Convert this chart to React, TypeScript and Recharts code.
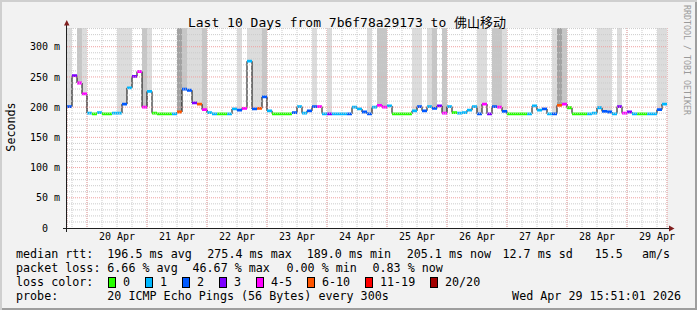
import React from 'react';
import { ComposedChart, Area, Line, XAxis, YAxis, CartesianGrid, ReferenceLine } from 'recharts';

// 2 hour steps from Apr 19 16:00, the last value is the "now" sample
const medianMs = [
  201, 252, 240, 222, 190, 189, 191, 189, 189, 190,
  190, 205, 232, 251, 259, 200, 226, 190, 189, 189,
  189, 189, 192, 230, 228, 207, 205, 196, 191, 189,
  189, 189, 189, 197, 195, 198, 276, 197, 198, 217,
  194, 189, 189, 189, 189, 191, 201, 190, 194, 201,
  201, 189, 189, 189, 189, 189, 189, 200, 197, 192,
  189, 200, 203, 200, 202, 189, 189, 189, 189, 194,
  201, 194, 201, 198, 202, 190, 201, 191, 190, 191,
  195, 201, 189, 205, 189, 201, 200, 193, 189, 189,
  189, 189, 189, 202, 195, 197, 189, 189, 203, 205,
  199, 189, 189, 189, 189, 190, 199, 193, 192, 189,
  201, 190, 192, 189, 189, 189, 189, 189, 196, 205,
  205.1,
];

// index into lossLabels
const lossIdx = [
  2, 3, 4, 4, 1, 0, 1, 0, 0, 1,
  1, 2, 1, 3, 4, 4, 1, 0, 0, 0,
  0, 1, 5, 2, 2, 3, 5, 4, 1, 1,
  0, 0, 1, 1, 2, 4, 1, 2, 5, 2,
  1, 0, 0, 0, 0, 2, 1, 1, 2, 2,
  4, 1, 3, 1, 1, 1, 2, 1, 1, 2,
  2, 1, 4, 4, 1, 0, 0, 0, 0, 1,
  2, 2, 1, 2, 3, 4, 1, 0, 1, 1,
  1, 1, 2, 4, 3, 2, 4, 2, 0, 0,
  0, 0, 1, 1, 1, 2, 1, 2, 5, 4,
  0, 0, 0, 0, 1, 1, 1, 2, 2, 1,
  3, 4, 3, 1, 0, 0, 1, 1, 2, 1,
  1,
];

// 0 none, 1 light, 2 medium, 3 dark smoke up to the top
const smokeLvl = [
  1, 0, 2, 1, 0, 0, 0, 0, 0, 0,
  1, 1, 1, 0, 0, 2, 1, 0, 0, 0,
  0, 0, 3, 2, 1, 1, 1, 2, 0, 0,
  0, 0, 0, 0, 1, 0, 1, 1, 1, 2,
  0, 0, 0, 0, 0, 0, 0, 0, 0, 1,
  0, 0, 1, 0, 0, 0, 0, 0, 0, 0,
  1, 0, 2, 2, 0, 0, 0, 0, 0, 1,
  1, 0, 1, 2, 0, 2, 0, 0, 0, 0,
  0, 0, 1, 1, 0, 2, 2, 1, 0, 0,
  0, 0, 0, 0, 0, 0, 0, 1, 3, 2,
  0, 0, 0, 0, 0, 0, 1, 1, 1, 0,
  1, 0, 0, 0, 0, 0, 0, 0, 1, 1,
  1,
];

const dayLabels = ['20 Apr', '21 Apr', '22 Apr', '23 Apr', '24 Apr', '25 Apr', '26 Apr', '27 Apr', '28 Apr', '29 Apr'];
const yTicks = [0, 50, 100, 150, 200, 250, 300];

const lossLabels = ['0', '1', '2', '3', '4-5', '6-10', '11-19', '20/20'];
const lossColors = ['#26ff00', '#00b8ff', '#0059ff', '#7e00ff', '#ff00ff', '#ff5500', '#ff0000', '#a10000'];
const smokeColors = ['none', '#dcdcdc', '#c6c6c6', '#a2a2a2'];

const STEP_H = 2;
const SPAN_H = 240;
const FIRST_MIDNIGHT = 8;
const Y_TOP = 331;
const HALF = 2.3;

const MONO = "'DejaVu Sans Mono', 'Noto Sans CJK SC', monospace";

const rows = medianMs.map((m, i) => ({ h: i * STEP_H, median: m, loss: lossIdx[i], smoke: smokeLvl[i] }));

const noonHours = dayLabels.map((_, d) => FIRST_MIDNIGHT + 12 + d * 24);
const midnightHours = dayLabels.map((_, d) => FIRST_MIDNIGHT + d * 24);
const minorHours = Array.from({ length: 40 }, (_, k) => 2 + k * 6);
const yMinorTicks = Array.from({ length: 33 }, (_, k) => (k + 1) * 10).filter((v) => v % 50 !== 0);

const fmtY = (v: number) => (v === 0 ? '0\u00a0\u00a0' : `${v} m`);

const YTick = (p: any) => (
  <text x={p.x} y={p.y} dy="0.36em" textAnchor="end" fontSize={10} fontFamily={MONO} fill="#000">
    {fmtY(p.payload.value)}
  </text>
);

const statsRow1 = [
  { x: 16, t: 'median rtt:' },
  { x: 107.3, t: '196.5 ms avg' },
  { x: 207.3, t: '275.4 ms max' },
  { x: 306.7, t: '189.0 ms min' },
  { x: 406.7, t: '205.1 ms now' },
  { x: 502.5, t: '12.7 ms sd' },
  { x: 594.7, t: '15.5' },
  { x: 642, t: 'am/s' },
];
const statsRow2 = [
  { x: 16, t: 'packet loss:' },
  { x: 107.3, t: '6.66 % avg' },
  { x: 192.5, t: '46.67 % max' },
  { x: 286.5, t: '0.00 % min' },
  { x: 372.5, t: '0.83 % now' },
];

const LegendBoxes = () => {
  let x = 108;
  return (
    <g>
      {lossLabels.map((lab, k) => {
        const bx = x;
        x += 15 + lab.length * 7 + 15;
        return (
          <g key={lab}>
            <rect x={bx + 0.5} y={277.5} width={7} height={10} fill={lossColors[k]} stroke="#000" strokeWidth={1} />
            <text x={bx + 15} y={286} fontSize={11.7} fontFamily={MONO}>{lab}</text>
          </g>
        );
      })}
    </g>
  );
};

const Overlay = () => (
  <svg width={697} height={310} style={{ position: 'absolute', left: 0, top: 0, pointerEvents: 'none' }}>
    <line x1={66.5} y1={24} x2={66.5} y2={232} stroke="#1f1f1f" strokeWidth={1} />
    <line x1={63} y1={228.5} x2={671} y2={228.5} stroke="#1f1f1f" strokeWidth={1} />
    <polygon points="64,25.5 69.5,25.5 66.75,20" fill="#801f1f" />
    <polygon points="669,225.5 669,231.5 674.5,228.5" fill="#801f1f" />
    <text x={347} y={26.5} textAnchor="middle" fontSize={13} fontFamily={MONO} fill="#000">
      Last 10 Days from 7b6f78a29173 to 佛山移动
    </text>
    <text transform="translate(15,127) rotate(-90)" textAnchor="middle" fontSize={11.7} fontFamily={MONO} fill="#000">
      Seconds
    </text>
    <text transform="translate(684,5) rotate(90)" fontSize={8.3} fontFamily={MONO} fill="#9a9a9a">
      RRDTOOL / TOBI OETIKER
    </text>
    {statsRow1.map((s) => (
      <text key={s.t} x={s.x} y={258} fontSize={11.7} fontFamily={MONO}>{s.t}</text>
    ))}
    {statsRow2.map((s) => (
      <text key={s.t} x={s.x} y={272} fontSize={11.7} fontFamily={MONO}>{s.t}</text>
    ))}
    <text x={16} y={286} fontSize={11.7} fontFamily={MONO}>loss color:</text>
    <LegendBoxes />
    <text x={16} y={300} fontSize={11.7} fontFamily={MONO}>probe:</text>
    <text x={107.3} y={300} fontSize={11.7} fontFamily={MONO}>20 ICMP Echo Pings (56 Bytes) every 300s</text>
    <text x={681} y={300} textAnchor="end" fontSize={11.7} fontFamily={MONO}>Wed Apr 29 15:51:01 2026</text>
  </svg>
);

export default function App() {
  return (
    <div
      style={{
        position: 'absolute',
        left: 0,
        top: 0,
        width: 697,
        height: 310,
        background: '#f2f2f2',
        boxShadow: 'inset 2px 2px 0 #cfcfcf, inset -2px -2px 0 #9e9e9e',
      }}
    >
      {/* plot canvas */}
      <div style={{ position: 'absolute', left: 66, top: 28, width: 601, height: 200, background: '#ffffff' }} />
      <ComposedChart
        width={697}
        height={310}
        data={rows}
        margin={{ top: 28, right: 30, bottom: 81, left: 66 }}
        style={{ position: 'absolute', left: 0, top: 0 }}
      >
        <XAxis xAxisId="minor" type="number" dataKey="h" domain={[0, SPAN_H]} ticks={minorHours} interval={0} hide allowDataOverflow />
        <XAxis xAxisId="major" type="number" dataKey="h" domain={[0, SPAN_H]} ticks={midnightHours} interval={0} hide allowDataOverflow />
        <CartesianGrid xAxisId="minor" horizontal={false} stroke="#cbcbcb" strokeDasharray="1 1" />
        <CartesianGrid xAxisId="major" horizontal={false} stroke="#f0a0a0" strokeDasharray="1 1" />
        {yMinorTicks.map((v) => (
          <ReferenceLine key={`gy${v}`} y={v} stroke="#cbcbcb" strokeDasharray="1 1" />
        ))}
        {yTicks.slice(1).map((v) => (
          <ReferenceLine key={`my${v}`} y={v} stroke="#f0a0a0" strokeDasharray="1 1" />
        ))}
        <XAxis
          dataKey="h"
          type="number"
          domain={[0, SPAN_H]}
          ticks={noonHours}
          interval={0}
          tickFormatter={(v: number) => dayLabels[noonHours.indexOf(v)]}
          axisLine={false}
          tickLine={false}
          tickSize={4}
          tickMargin={1}
          height={1}
          tick={{ fontSize: 10, fill: '#000', fontFamily: MONO }}
          allowDataOverflow
        />
        <YAxis
          type="number"
          domain={[0, Y_TOP]}
          ticks={yTicks}
          interval={0}
          width={1}
          axisLine={false}
          tickLine={false}
          tickSize={5}
          tickMargin={2}
          tick={<YTick />}
          allowDataOverflow
        />
        {[1, 2, 3].map((lvl) => (
          <Area
            key={`smoke${lvl}`}
            type="stepAfter"
            dataKey={(r: any) => (r.smoke === lvl ? [r.median, Y_TOP] : [r.median, r.median])}
            fill={smokeColors[lvl]}
            fillOpacity={1}
            stroke="none"
            dot={false}
            activeDot={false}
            isAnimationActive={false}
          />
        ))}
        <Line
          type="stepAfter"
          dataKey="median"
          stroke="#000"
          strokeWidth={1}
          dot={false}
          activeDot={false}
          isAnimationActive={false}
          zIndex={120}
        />
        {lossColors.map((c, k) => (
          <Area
            key={`loss${k}`}
            type="stepAfter"
            dataKey={(r: any) => (r.loss === k ? [r.median - HALF, r.median + HALF] : [r.median, r.median])}
            fill={c}
            fillOpacity={1}
            stroke="none"
            dot={false}
            activeDot={false}
            isAnimationActive={false}
            zIndex={130}
          />
        ))}
      </ComposedChart>
      <Overlay />
    </div>
  );
}
